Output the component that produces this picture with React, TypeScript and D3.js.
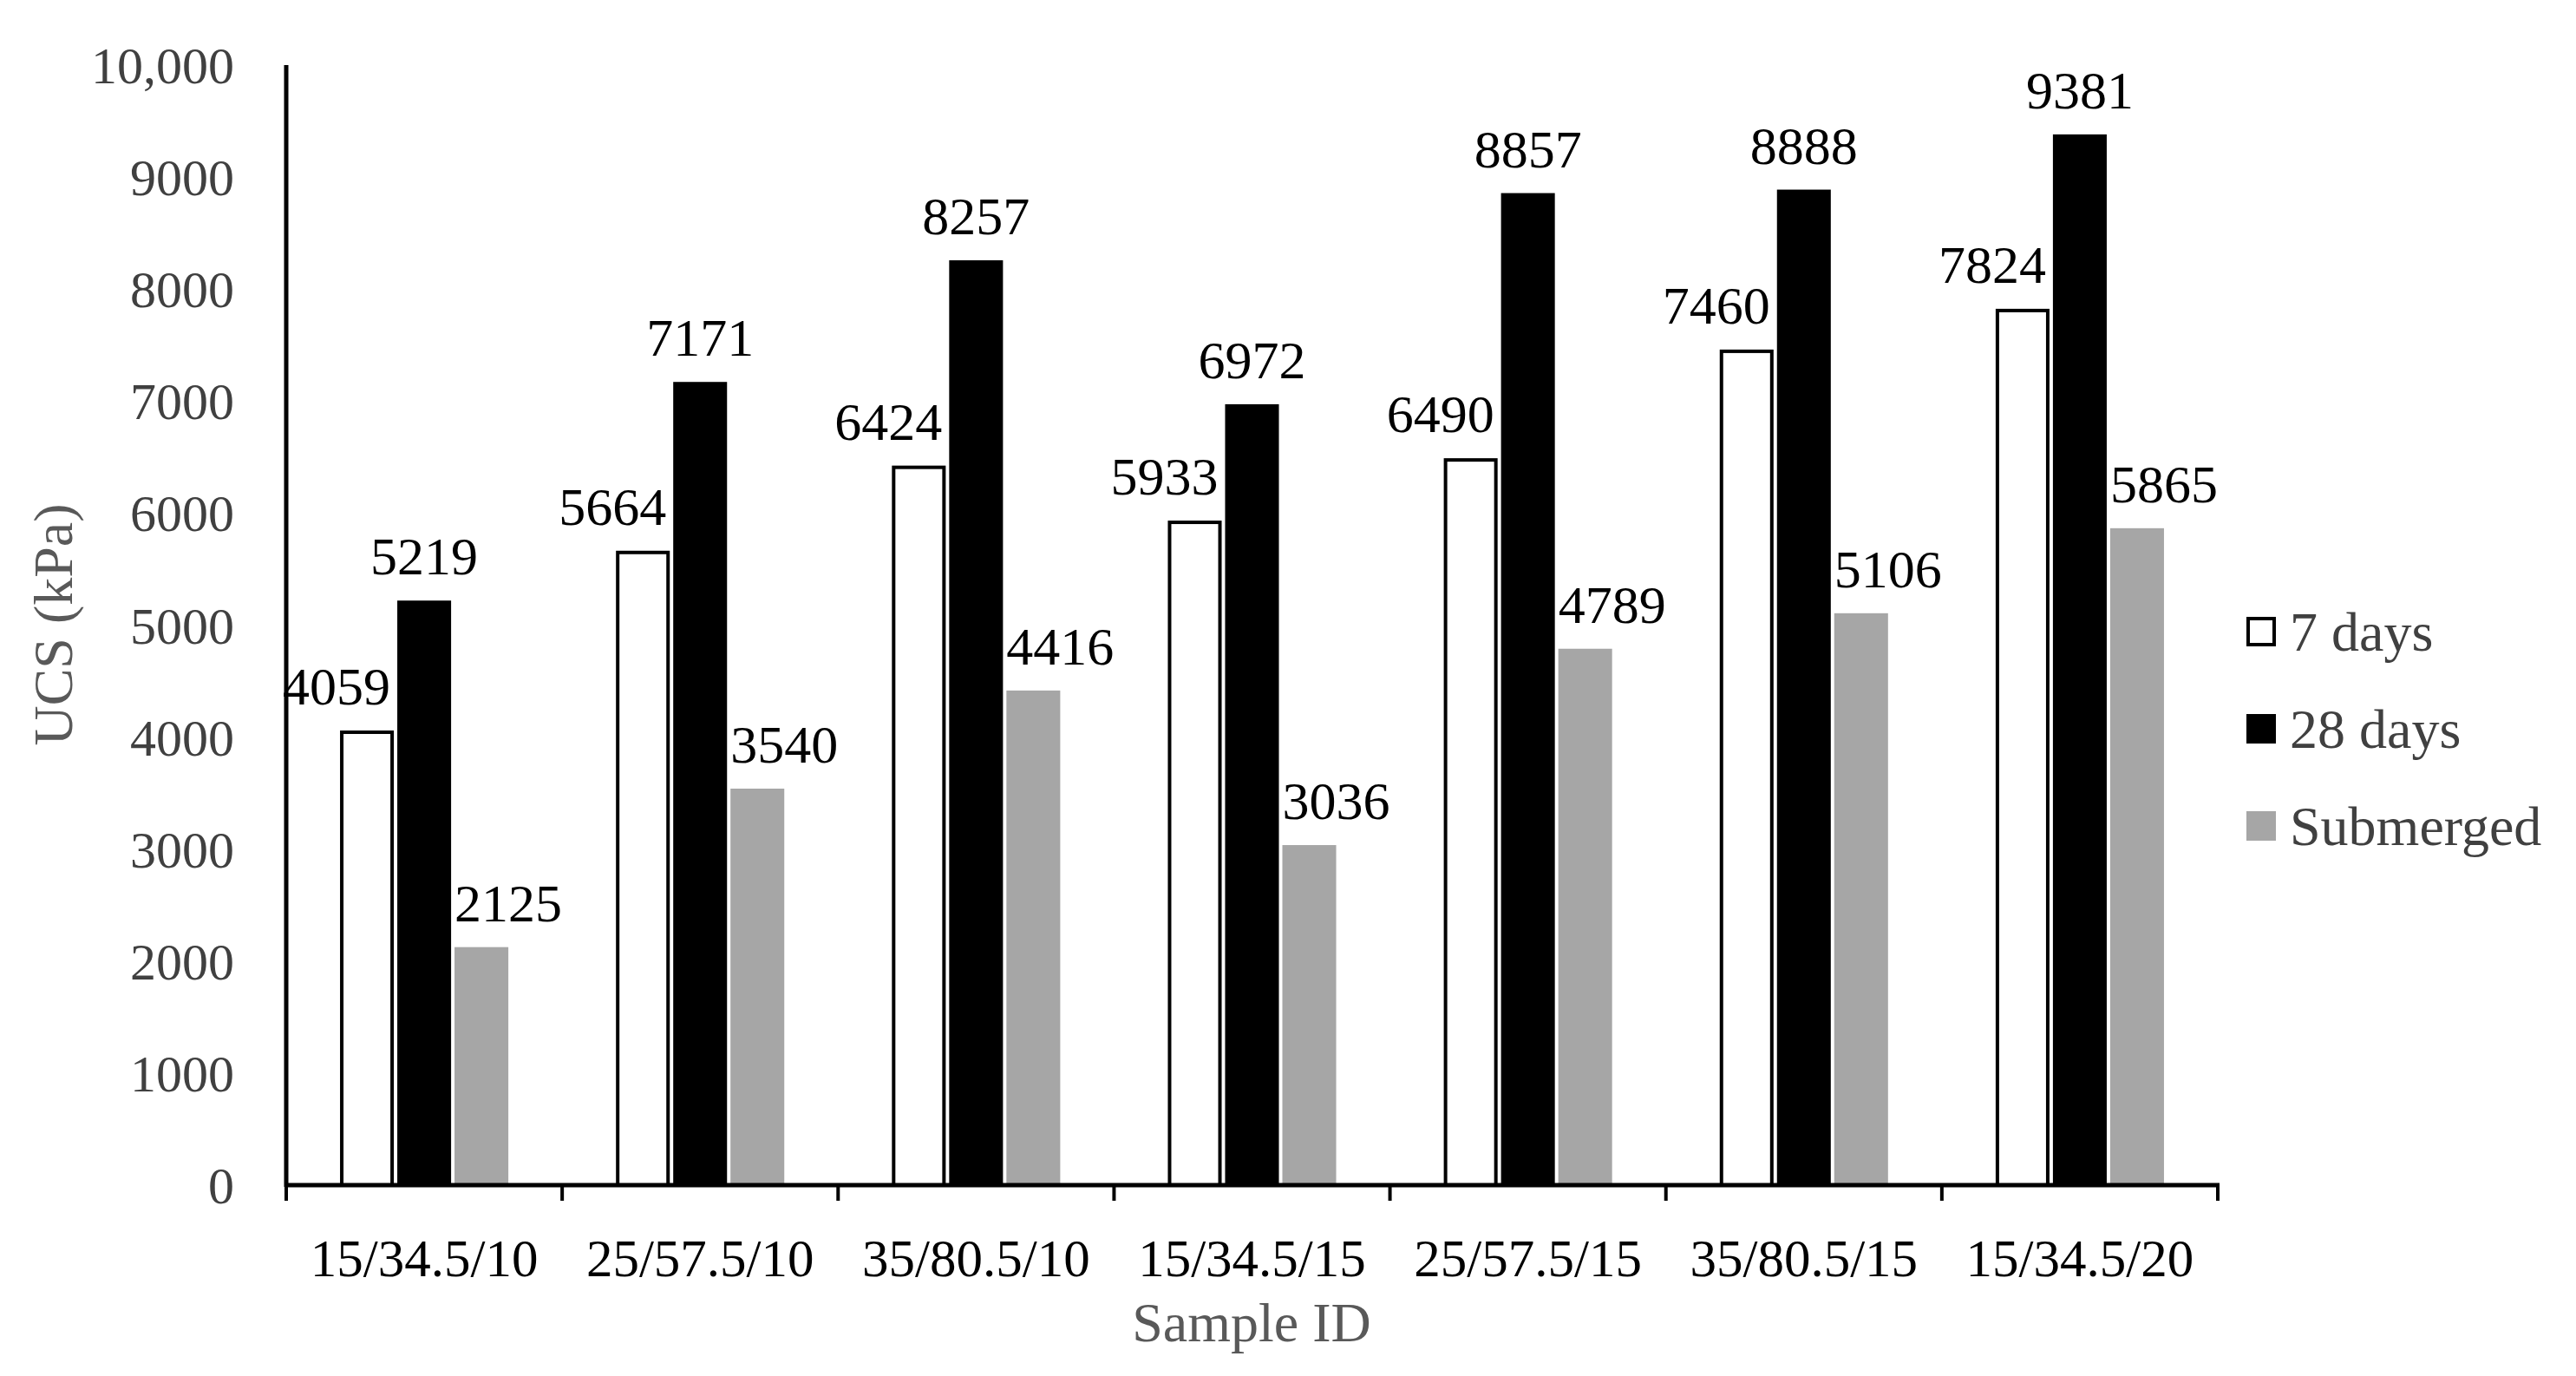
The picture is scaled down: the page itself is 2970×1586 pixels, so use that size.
import React from "react";
import * as d3 from "d3";

const categories = ["15/34.5/10", "25/57.5/10", "35/80.5/10", "15/34.5/15", "25/57.5/15", "35/80.5/15", "15/34.5/20"];
const days7 = [4059, 5664, 6424, 5933, 6490, 7460, 7824];
const days28 = [5219, 7171, 8257, 6972, 8857, 8888, 9381];
const submerged = [2125, 3540, 4416, 3036, 4789, 5106, 5865];
const seriesNames = ["7 days", "28 days", "Submerged"];
const yTicks = [0, 1000, 2000, 3000, 4000, 5000, 6000, 7000, 8000, 9000, 10000];
const yTitle = "UCS (kPa)";
const xTitle = "Sample ID";

const W = 2970;
const H = 1586;
const FONT = "'Liberation Serif', 'Times New Roman', serif";

const styles: Record<string, { fill: string; stroke: string }> = {
  "7 days": { fill: "#ffffff", stroke: "#000000" },
  "28 days": { fill: "#000000", stroke: "none" },
  Submerged: { fill: "#a6a6a6", stroke: "none" },
};

export default function App() {
  const left = 330;
  const right = 2557;
  const y0 = 1366;
  const yTop = 75;
  const x = d3.scaleBand<string>().domain(categories).range([left, right]).padding(0);
  const y = d3.scaleLinear().domain([0, 10000]).range([y0, yTop]);
  const xs = d3
    .scaleBand<string>()
    .domain(seriesNames)
    .range([0, x.bandwidth()])
    .paddingInner(0.06)
    .paddingOuter(0.94);
  const bw = xs.bandwidth();
  const seriesValues = [days7, days28, submerged];
  const fmt = (v: number) => (v >= 10000 ? d3.format(",")(v) : String(v));
  const boundaries = [...categories.map((c) => x(c) as number), right];

  return (
    <svg
      width={W}
      height={H}
      style={{ position: "absolute", left: 0, top: 0, background: "#fff" }}
      fontFamily={FONT}
    >
      <rect x={0} y={0} width={W} height={H} fill="#fff" />
      {/* y tick labels */}
      {yTicks.map((t) => (
        <text
          key={t}
          x={270}
          y={y(t)}
          dy="0.35em"
          textAnchor="end"
          fontSize={60}
          fill="#404040"
        >
          {fmt(t)}
        </text>
      ))}
      {/* bars */}
      {seriesNames.map((s, si) =>
        categories.map((c, ci) => {
          const v = seriesValues[si][ci];
          const bx = (x(c) as number) + (xs(s) as number);
          const st = styles[s];
          const sw = st.stroke === "none" ? 0 : 4;
          return (
            <rect
              key={s + c}
              x={bx + sw / 2}
              y={y(v) + sw / 2}
              width={bw - sw}
              height={y0 - y(v) - sw / 2}
              fill={st.fill}
              stroke={st.stroke}
              strokeWidth={sw}
            />
          );
        })
      )}
      {/* data labels */}
      {seriesNames.map((s, si) =>
        categories.map((c, ci) => {
          const v = seriesValues[si][ci];
          const bx = (x(c) as number) + (xs(s) as number);
          let tx = bx + bw / 2;
          let anchor: "start" | "middle" | "end" = "middle";
          if (si === 0) {
            tx = bx + bw - 4;
            anchor = "end";
          } else if (si === 2) {
            tx = bx;
            anchor = "start";
          }
          return (
            <text
              key={"l" + s + c}
              x={tx}
              y={y(v) - 30}
              textAnchor={anchor}
              fontSize={62}
              fill="#000"
            >
              {v}
            </text>
          );
        })
      )}
      {/* axes */}
      <line x1={left} x2={left} y1={yTop} y2={y0 + 2} stroke="#000" strokeWidth={5} />
      <line x1={left - 2} x2={right + 2} y1={y0} y2={y0} stroke="#000" strokeWidth={5} />
      {boundaries.map((bx, i) => (
        <line key={"t" + i} x1={bx} x2={bx} y1={y0} y2={y0 + 18} stroke="#000" strokeWidth={4} />
      ))}
      {categories.map((c) => (
        <text
          key={"c" + c}
          x={(x(c) as number) + x.bandwidth() / 2}
          y={1450}
          dy="0.35em"
          textAnchor="middle"
          fontSize={61}
          fill="#000"
        >
          {c}
        </text>
      ))}
      {/* axis titles */}
      <text
        x={1443}
        y={1524}
        dy="0.35em"
        textAnchor="middle"
        fontSize={64}
        fill="#595959"
      >
        {xTitle}
      </text>
      <text
        transform={`translate(61,720) rotate(-90)`}
        dy="0.35em"
        textAnchor="middle"
        fontSize={64}
        fill="#595959"
      >
        {yTitle}
      </text>
      {/* legend */}
      {seriesNames.map((s, i) => {
        const ly = 728 + i * 112;
        const st = styles[s];
        const sw = st.stroke === "none" ? 0 : 4;
        return (
          <g key={"lg" + s}>
            <rect
              x={2590 + sw / 2}
              y={ly - 17 + sw / 2}
              width={34 - sw}
              height={34 - sw}
              fill={st.fill}
              stroke={st.stroke}
              strokeWidth={sw}
            />
            <text x={2640} y={ly} dy="0.35em" fontSize={64} fill="#404040">
              {s}
            </text>
          </g>
        );
      })}
    </svg>
  );
}
